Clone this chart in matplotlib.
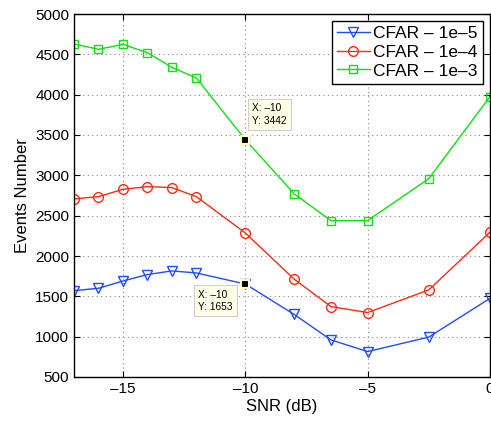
import matplotlib
matplotlib.use('Agg')
import matplotlib.pyplot as plt

snr = [-17, -16, -15, -14, -13, -12, -10, -8, -6.5, -5, -2.5, 0]
cfar_1e5 = [1570, 1600, 1690, 1770, 1815, 1790, 1653, 1275, 960, 815, 995, 1475]
cfar_1e4 = [2708, 2736, 2827, 2860, 2848, 2736, 2286, 1712, 1373, 1299, 1580, 2295]
cfar_1e3 = [4628, 4562, 4624, 4521, 4339, 4207, 3442, 2770, 2439, 2439, 2959, 3976]
labels = ['CFAR \u2013 1e\u20135', 'CFAR \u2013 1e\u20134', 'CFAR \u2013 1e\u20133']

plt.rcParams['font.family'] = ['Liberation Sans', 'DejaVu Sans']
plt.rcParams['axes.unicode_minus'] = False

fig = plt.figure(figsize=(4.91, 4.21), dpi=100)
ax = fig.add_axes([74 / 491, 1 - 377 / 421, 416 / 491, 363 / 421])

ax.plot(snr, cfar_1e5, color='#1f4cff', lw=1, marker='v', ms=7.5,
        mfc='none', mew=1, label=labels[0])
ax.plot(snr, cfar_1e4, color='#ff2a12', lw=1, marker='o', ms=7,
        mfc='none', mew=1, label=labels[1])
ax.plot(snr, cfar_1e3, color='#10e010', lw=1, marker='s', ms=6,
        mfc='none', mew=1, label=labels[2])

# data tips
for y, off in [(cfar_1e3[6], (5, 10)), (cfar_1e5[6], (-34, -4))]:
    ax.plot([-10], [y], marker='s', ms=5.5, color='black', mec='#ffffcc',
            mew=1.5, zorder=5)
    va = 'bottom' if off[1] > 0 else 'top'
    ax.annotate('X: \u201310\nY: %d' % y, xy=(-10, y), xytext=off,
                textcoords='offset points', ha='left', va=va, fontsize=7.3,
                linespacing=1.3,
                bbox=dict(boxstyle='square,pad=0.4', fc='#ffffe8',
                          ec='#cfcfcf', lw=0.8), zorder=6)

ax.set_xlim(-17, 0)
ax.set_ylim(500, 5000)
ax.set_xticks([-15, -10, -5, 0])
ax.set_xticklabels(['\u201315', '\u201310', '\u20135', '0'])
ax.set_yticks(range(500, 5001, 500))
ax.tick_params(direction='in', labelsize=11, top=True, right=True,
               length=4, width=0.8)
ax.grid(True, color='#888888', linestyle=(0, (1, 3)), lw=0.8)
for sp in ax.spines.values():
    sp.set_linewidth(1)
ax.set_xlabel('SNR (dB)', fontsize=12, labelpad=2)
ax.set_ylabel('Events Number', fontsize=12, labelpad=4)

leg = ax.legend(loc='upper right', fontsize=12.5, fancybox=False,
                framealpha=1, edgecolor='black', borderaxespad=0.4,
                handlelength=1.9, borderpad=0.3, labelspacing=0.2,
                handletextpad=0.2)
leg.get_frame().set_linewidth(1)

fig.savefig('out.png', dpi=100)
